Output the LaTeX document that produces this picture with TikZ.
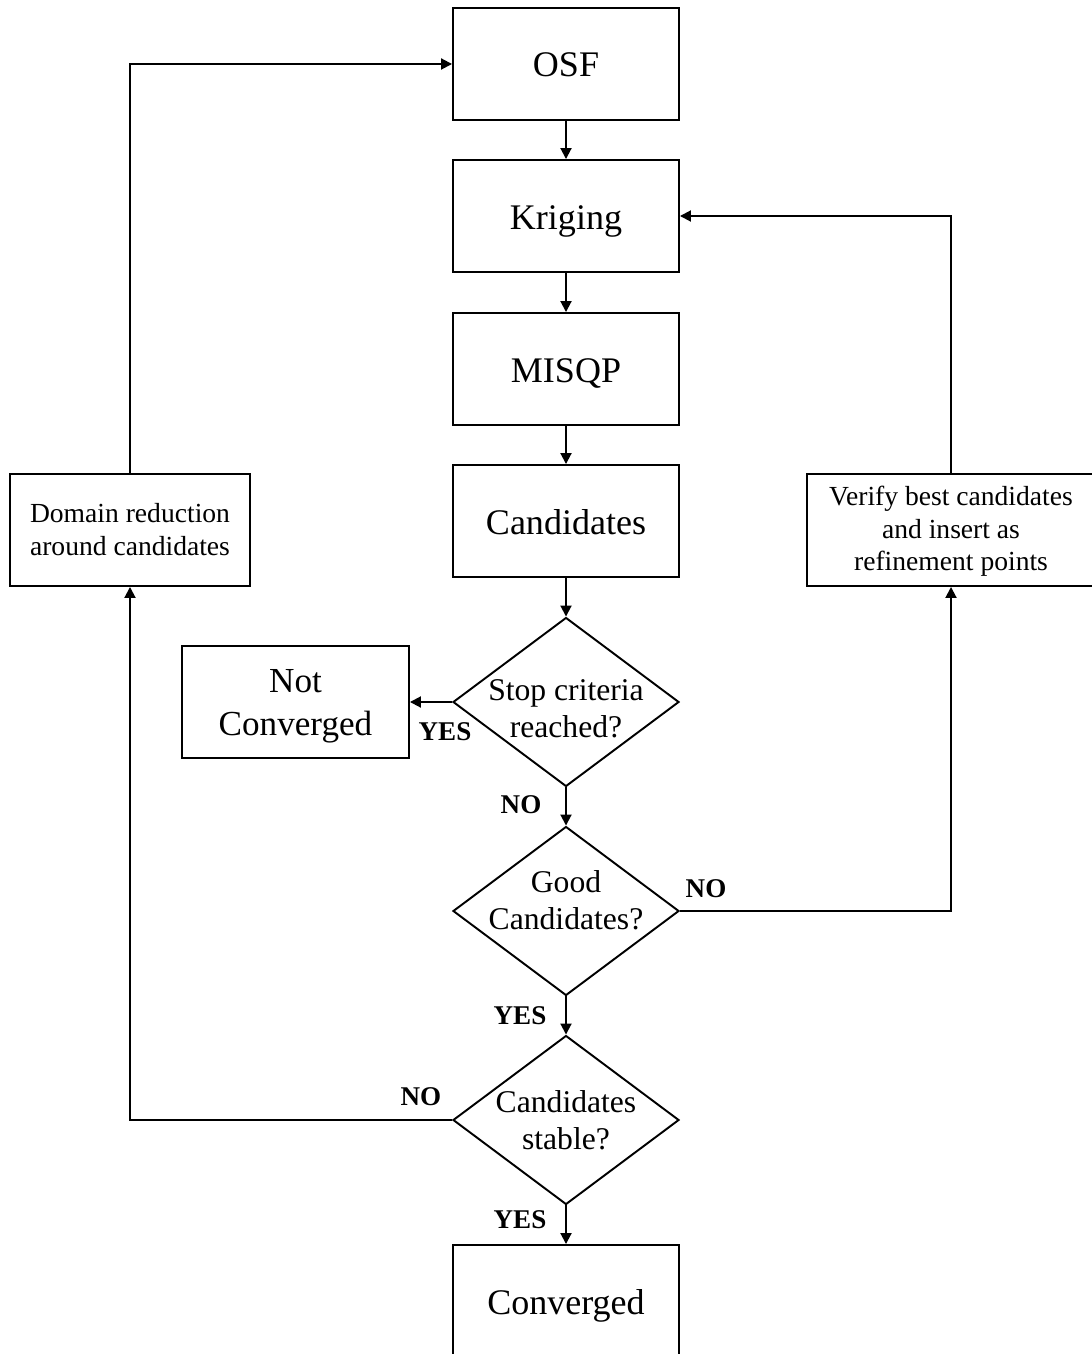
\documentclass[tikz,border=0pt]{standalone}
\usepackage{fontspec}
\setmainfont{Liberation Serif}
\usetikzlibrary{shapes.geometric,arrows.meta}
\definecolor{ink}{HTML}{000000}

\tikzset{
  box/.style={draw=ink, line width=1.1pt, align=center, minimum width=4.52cm,
    minimum height=2.24cm, inner sep=0pt, text height=0.6cm, text depth=0.08cm,
    font=\fontsize{20.5}{23.5}\selectfont},
  sidebox/.style={box, font=\fontsize{15.7}{18.5}\selectfont},
  decision/.style={draw=ink, line width=1.1pt, shape=diamond, align=center,
    minimum width=4.52cm, minimum height=3.38cm, inner sep=-0.5cm,
    text height=#1, text depth=0.1cm,
    font=\fontsize{18}{21.2}\selectfont},
  lbl/.style={font=\fontsize{15.4}{18}\selectfont\bfseries, inner sep=0pt},
  arr/.style={draw=ink, line width=1.1pt, -{Triangle[length=0.22cm,width=0.22cm]}}
}

\begin{document}
\begin{tikzpicture}
  \useasboundingbox (0,0) rectangle (21.82,-27.08);

  % Main column
  \node[box] (osf) at (11.32,-1.28) {OSF};
  \node[box] (krig) at (11.32,-4.32) {Kriging};
  \node[box] (misqp) at (11.32,-7.38) {MISQP};
  \node[box] (cand) at (11.32,-10.42) {Candidates};

  % Decisions
  \node[decision=1.51cm] (stop) at (11.32,-14.04) {Stop criteria\\reached?};
  \node[decision=0.85cm] (good) at (11.32,-18.22) {Good\\Candidates?};
  \node[decision=1.27cm] (stable) at (11.32,-22.40) {Candidates\\stable?};
  \node[box] (conv) at (11.32,-26.02) {Converged};

  % Side boxes
  \node[box, minimum width=4.54cm, text height=1.41cm,
    font=\fontsize{20}{24.2}\selectfont] (notconv) at (5.91,-14.04) {Not\\Converged};
  \node[sidebox, minimum width=4.8cm, text height=1.08cm] (domain) at (2.60,-10.60)
    {Domain reduction\\around candidates};
  \node[sidebox, minimum width=5.76cm, text height=1.71cm] (verify) at (19.02,-10.60)
    {Verify best candidates\\and insert as\\refinement points};

  % Straight flow
  \draw[arr] (osf) -- (krig);
  \draw[arr] (krig) -- (misqp);
  \draw[arr] (misqp) -- (cand);
  \draw[arr] (cand) -- (stop);
  \draw[arr] (stop) -- (good);
  \draw[arr] (good) -- (stable);
  \draw[arr] (stable) -- (conv);
  \draw[arr] (stop.west) -- (notconv.east);

  % Loops back
  \draw[arr] (good.east) -| (verify.south);
  \draw[arr] (verify.north) |- (krig.east);
  \draw[arr] (stable.west) -| (domain.south);
  \draw[arr] (domain.north) |- (osf.west);

  % Branch labels
  \node[lbl] (yesstop) at (8.90,-14.64) {YES};
  \node[lbl] (nostop) at (10.42,-16.10) {NO};
  \node[lbl] (nogood) at (14.12,-17.78) {NO};
  \node[lbl] (yesgood) at (10.40,-20.32) {YES};
  \node[lbl] (nostable) at (8.42,-21.94) {NO};
  \node[lbl] (yesstable) at (10.40,-24.40) {YES};

\end{tikzpicture}
\end{document}
